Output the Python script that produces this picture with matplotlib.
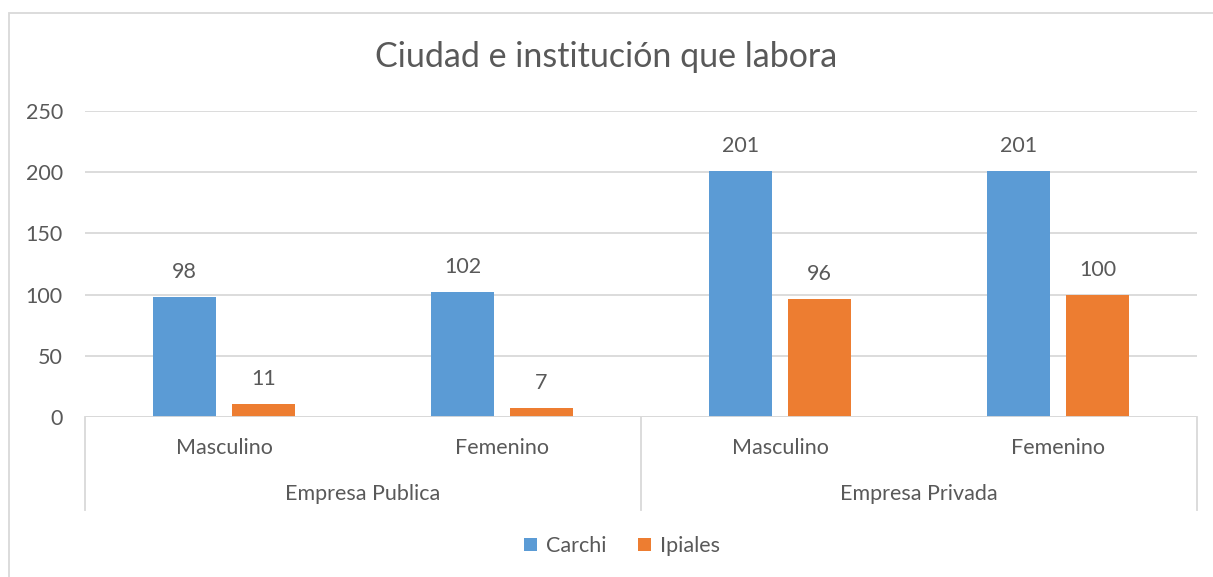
import matplotlib.pyplot as plt
import numpy as np
from matplotlib.patches import Rectangle
from matplotlib.lines import Line2D

# data
subcats = ["Masculino", "Femenino", "Masculino", "Femenino"]
groups = ["Empresa Publica", "Empresa Privada"]
carchi = [98, 102, 201, 201]
ipiales = [11, 7, 96, 100]

blue = "#5B9BD5"
orange = "#ED7D31"
txt = "#595959"
grid = "#D9D9D9"

plt.rcParams['font.family'] = ['Lato', 'DejaVu Sans']
fs = 15.5

W, H = 1213, 577
fig = plt.figure(figsize=(W / 100, H / 100), dpi=100)

def fx(px):
    return px / W

def fy(py):
    return 1 - py / H

# chart border
fig.patches.append(Rectangle((fx(8.5), -0.1), 1.2, fy(12.5) + 0.1, transform=fig.transFigure,
                             fill=False, edgecolor=grid, linewidth=1.3))

ax = fig.add_axes([fx(85), fy(417), fx(1197) - fx(85), fy(111) - fy(417)])
x = np.arange(len(subcats))
w = 0.227
off = 0.142
b1 = ax.bar(x - off, carchi, w, color=blue, zorder=3, label="Carchi")
b2 = ax.bar(x + off, ipiales, w, color=orange, zorder=3, label="Ipiales")

for bars, vals in ((b1, carchi), (b2, ipiales)):
    for r, v in zip(bars, vals):
        ax.annotate(str(v), (r.get_x() + r.get_width() / 2, v), xytext=(0, 18),
                    textcoords="offset points", ha="center", va="center",
                    fontsize=fs, color=txt)

ax.set_xlim(-0.5, len(subcats) - 0.5)
ax.set_ylim(0, 250)
ax.set_yticks(range(0, 251, 50))
ax.yaxis.grid(True, color=grid, linewidth=1.3, zorder=0)
ax.tick_params(axis='y', length=0, labelsize=fs, labelcolor=txt, pad=16)
ax.tick_params(axis='x', length=0, labelbottom=False)
for s in ax.spines.values():
    s.set_visible(False)
ax.axhline(0, color=grid, linewidth=1.3, zorder=4)

# category labels
for i, lab in enumerate(subcats):
    fig.text(fx(85) + (fx(1197) - fx(85)) * (i + 0.5) / len(subcats), fy(448), lab,
             ha="center", va="center", fontsize=fs, color=txt)
for g, lab in enumerate(groups):
    fig.text(fx(85) + (fx(1197) - fx(85)) * (2 * g + 1) / len(subcats), fy(494), lab,
             ha="center", va="center", fontsize=fs, color=txt)

# separator lines
for px in (85, 641, 1197):
    fig.add_artist(Line2D([fx(px), fx(px)], [fy(417), fy(510)], transform=fig.transFigure,
                          color=grid, linewidth=1.3))

fig.text(0.5, fy(57), "Ciudad e institución que labora", ha="center", va="center",
         fontsize=24.5, color=txt)

fig.legend(handles=[b1, b2], labels=["Carchi", "Ipiales"], loc="center",
           bbox_to_anchor=(fx(622), fy(546)), ncol=2, frameon=False, fontsize=fs,
           labelcolor=txt, handlelength=0.6, handleheight=0.6, handletextpad=0.4,
           columnspacing=1.5)

fig.savefig("out.png", dpi=100)
